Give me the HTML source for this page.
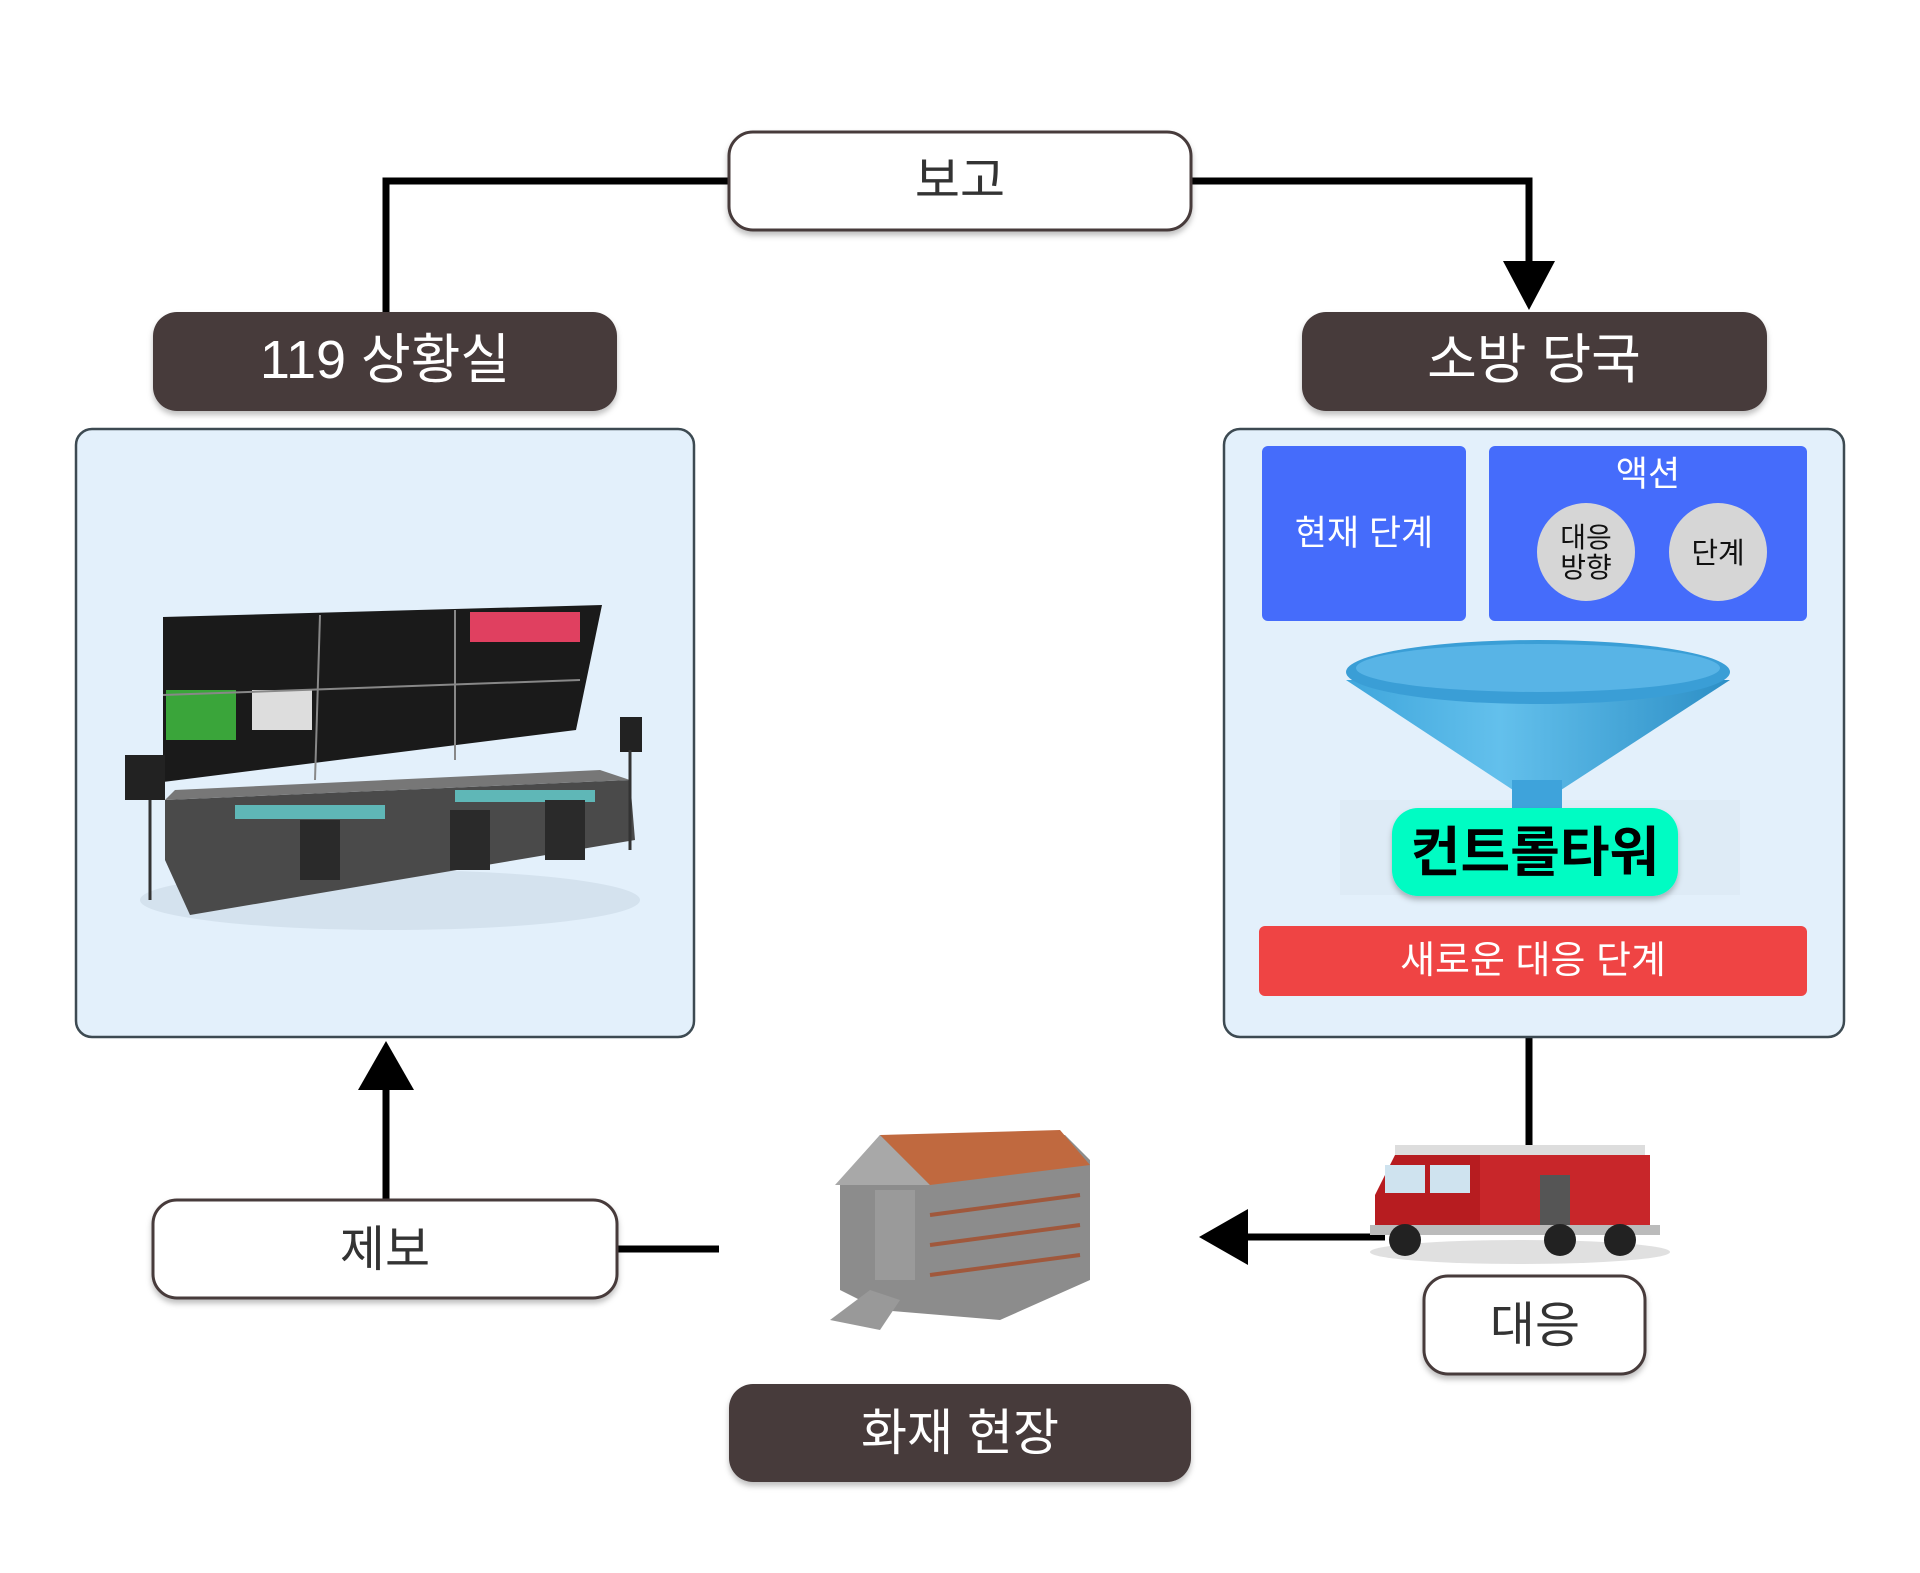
<!DOCTYPE html>
<html><head><meta charset="utf-8"><style>
html,body{margin:0;padding:0;background:#fff;}
svg{display:block;}
text{font-family:"Liberation Sans","Noto Sans CJK KR",sans-serif;}
</style></head><body>
<svg width="1920" height="1573" viewBox="0 0 1920 1573" xmlns="http://www.w3.org/2000/svg">
<defs>
<filter id="sh" x="-10%" y="-10%" width="120%" height="130%"><feDropShadow dx="0" dy="4" stdDeviation="3" flood-color="#000" flood-opacity="0.25"/></filter>
<linearGradient id="fun" x1="0" x2="1"><stop offset="0" stop-color="#3fa6dc"/><stop offset="0.4" stop-color="#63c0ec"/><stop offset="1" stop-color="#2d8fc6"/></linearGradient>
</defs>

<g stroke="#000" stroke-width="7" fill="none">
<polyline points="386,312 386,181 729,181"/>
<polyline points="1191,181 1529,181 1529,265"/>
<line x1="1529" y1="1037" x2="1529" y2="1150"/>
<line x1="1245" y1="1237" x2="1385" y2="1237"/>
<line x1="617" y1="1249" x2="719" y2="1249"/>
<line x1="386" y1="1200" x2="386" y2="1085"/>
</g>
<polygon points="1503,261 1555,261 1529,310" fill="#000"/>
<polygon points="1199,1237 1248,1209 1248,1265" fill="#000"/>
<polygon points="386,1041 358,1090 414,1090" fill="#000"/>

<rect x="729" y="132" width="462" height="98" rx="24" fill="#fff" stroke="#463a3a" stroke-width="3" filter="url(#sh)"/>
<text x="960" y="197" font-size="49" text-anchor="middle" fill="#333">보고</text>

<rect x="153" y="312" width="464" height="99" rx="24" fill="#463a3a" filter="url(#sh)"/>
<text x="385" y="378" font-size="54" text-anchor="middle" fill="#fff">119 상황실</text>
<rect x="1302" y="312" width="465" height="99" rx="24" fill="#463a3a" filter="url(#sh)"/>
<text x="1534" y="378" font-size="54" text-anchor="middle" fill="#fff">소방 당국</text>

<rect x="76" y="429" width="618" height="608" rx="16" fill="#e3f0fb" stroke="#3d4a52" stroke-width="2.5"/>
<g>
<ellipse cx="390" cy="900" rx="250" ry="30" fill="#c9d8e6" opacity="0.6"/>
<polygon points="163,617 602,605 576,730 163,782" fill="#1a1a1a"/>
<rect x="166" y="690" width="70" height="50" fill="#3aa53a"/>
<rect x="252" y="690" width="60" height="40" fill="#ddd"/>
<rect x="470" y="612" width="110" height="30" fill="#e04060"/>
<line x1="320" y1="615" x2="315" y2="780" stroke="#888" stroke-width="2"/>
<line x1="455" y1="610" x2="455" y2="760" stroke="#888" stroke-width="2"/>
<line x1="163" y1="695" x2="580" y2="680" stroke="#888" stroke-width="2"/>
<polygon points="165,800 630,780 635,840 190,915 165,860" fill="#4a4a4a"/>
<polygon points="165,800 630,780 600,770 175,790" fill="#777"/>
<rect x="235" y="805" width="150" height="14" fill="#5fb7b7"/>
<rect x="455" y="790" width="140" height="12" fill="#5fb7b7"/>
<rect x="125" y="755" width="40" height="45" fill="#222"/>
<rect x="620" y="717" width="22" height="35" fill="#222"/>
<line x1="150" y1="800" x2="150" y2="900" stroke="#333" stroke-width="3"/>
<line x1="630" y1="750" x2="630" y2="850" stroke="#333" stroke-width="3"/>
<rect x="300" y="820" width="40" height="60" fill="#2a2a2a"/>
<rect x="450" y="810" width="40" height="60" fill="#2a2a2a"/>
<rect x="545" y="800" width="40" height="60" fill="#2a2a2a"/>
</g>

<rect x="1224" y="429" width="620" height="608" rx="16" fill="#e3f0fb" stroke="#3d4a52" stroke-width="2.5"/>
<rect x="1262" y="446" width="204" height="175" rx="6" fill="#456cfb"/>
<text x="1364" y="545" font-size="35" text-anchor="middle" fill="#fff">현재 단계</text>
<rect x="1489" y="446" width="318" height="175" rx="6" fill="#456cfb"/>
<text x="1648" y="486" font-size="35" text-anchor="middle" fill="#fff">액션</text>
<circle cx="1586" cy="552" r="49" fill="#d6d6d6"/>
<text x="1586" y="547" font-size="28" text-anchor="middle" fill="#111">대응</text>
<text x="1586" y="577" font-size="28" text-anchor="middle" fill="#111">방향</text>
<circle cx="1718" cy="552" r="49" fill="#d6d6d6"/>
<text x="1718" y="563" font-size="29" text-anchor="middle" fill="#111">단계</text>
<rect x="1340" y="800" width="400" height="95" fill="#d9e6f1" opacity="0.5"/>
<polygon points="1346,680 1730,680 1561,790 1513,790" fill="url(#fun)"/>
<rect x="1512" y="780" width="50" height="30" fill="#3ea3db"/>
<ellipse cx="1538" cy="672" rx="192" ry="32" fill="#3a9ed6"/>
<ellipse cx="1538" cy="668" rx="182" ry="24" fill="#58b4e6"/>
<rect x="1392" y="808" width="286" height="88" rx="26" fill="#00fcc3" filter="url(#sh)"/>
<text x="1535" y="871" font-size="54" font-weight="bold" text-anchor="middle" fill="#000">컨트롤타워</text>
<rect x="1259" y="926" width="548" height="70" rx="6" fill="#ef4444"/>
<text x="1533" y="973" font-size="38" text-anchor="middle" fill="#fff">새로운 대응 단계</text>

<g>
<ellipse cx="1520" cy="1252" rx="150" ry="12" fill="#ccc" opacity="0.6"/>
<rect x="1395" y="1155" width="255" height="80" fill="#c8262a"/>
<polygon points="1375,1195 1395,1155 1480,1155 1480,1235 1375,1235" fill="#b71c20"/>
<rect x="1385" y="1165" width="40" height="28" fill="#cfe3ef"/>
<rect x="1430" y="1165" width="40" height="28" fill="#cfe3ef"/>
<rect x="1395" y="1145" width="250" height="10" fill="#ddd"/>
<rect x="1540" y="1175" width="30" height="50" fill="#555"/>
<rect x="1370" y="1225" width="290" height="10" fill="#bbb"/>
<circle cx="1405" cy="1240" r="16" fill="#222"/>
<circle cx="1560" cy="1240" r="16" fill="#222"/>
<circle cx="1620" cy="1240" r="16" fill="#222"/>
</g>

<rect x="1424" y="1276" width="221" height="98" rx="24" fill="#fff" stroke="#463a3a" stroke-width="3" filter="url(#sh)"/>
<text x="1535" y="1342" font-size="49" text-anchor="middle" fill="#333">대응</text>

<g>
<polygon points="840,1180 880,1135 1065,1135 1090,1160 1090,1280 1000,1320 880,1310 840,1290" fill="#8c8c8c"/>
<polygon points="835,1185 880,1135 930,1185" fill="#a8a8a8"/>
<polygon points="880,1135 1060,1130 1090,1165 930,1185" fill="#c0693f"/>
<rect x="875" y="1190" width="40" height="90" fill="#9a9a9a"/>
<g stroke="#a0583c" stroke-width="4" fill="none">
<path d="M930,1215 L1080,1195"/><path d="M930,1245 L1080,1225"/><path d="M930,1275 L1080,1255"/>
</g>
<polygon points="830,1320 870,1290 900,1300 880,1330" fill="#999"/>
</g>

<rect x="729" y="1384" width="462" height="98" rx="24" fill="#463a3a" filter="url(#sh)"/>
<text x="960" y="1450" font-size="50" text-anchor="middle" fill="#fff">화재 현장</text>

<rect x="153" y="1200" width="464" height="98" rx="24" fill="#fff" stroke="#463a3a" stroke-width="3" filter="url(#sh)"/>
<text x="385" y="1266" font-size="49" text-anchor="middle" fill="#333">제보</text>
</svg>
</body></html>
